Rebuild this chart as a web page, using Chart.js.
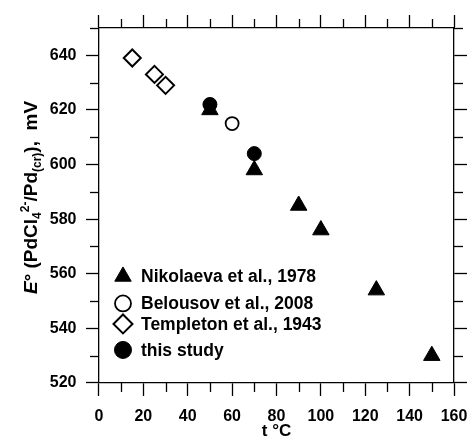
<!DOCTYPE html>
<html>
<head>
<meta charset="utf-8">
<script src="https://cdn.jsdelivr.net/npm/chart.js@4.4.1/dist/chart.umd.min.js"></script>
<style>
  body { margin: 0; background: #fff; }
  #chart { display: block; }
</style>
</head>
<body>
<canvas id="chart" width="470" height="443"></canvas>
<script>
// Values: t in ºC, E in mV
const nikolaevaT = [50, 70, 90, 100, 125, 150];
const nikolaevaE = [620, 598, 585, 576, 554, 530];
const belousovT = [60];
const belousovE = [615];
const templetonT = [15, 25, 30];
const templetonE = [639, 633, 629];
const studyT = [50, 70];
const studyE = [622, 604];

const seriesNames = ['Nikolaeva et al., 1978', 'Belousov et al., 2008', 'Templeton et al., 1943', 'this study'];

// axis ranges: ticks every 10, labels every 20
const xMin = 0, xMax = 160, xStep = 10, xLabelStep = 20;
const yMin = 520, yMax = 650, yStep = 10, yLabelStep = 20;

const xTitle = 't °C';
const yTitleParts = [
  { text: 'E', italic: true },
  { text: '° (PdCl' },
  { text: '4', sub: true },
  { text: '2-', sup: true },
  { text: '/Pd' },
  { text: '(cr)', sub: true },
  { text: '),  mV' }
];

const FONT = "'Liberation Sans', Arial, sans-serif";

function pts(xs, ys) {
  return xs.map((x, i) => ({ x: x, y: ys[i] }));
}

function isMajor(id, v) {
  return id[0] === 'x' ? (v - xMin) % xLabelStep === 0 : (v - yMin) % yLabelStep === 0;
}

// note: chart.js counts ticks.padding twice in the axis size
function frameAxis(id, pos, labels) {
  const isX = id[0] === 'x';
  return {
    type: 'linear',
    position: pos,
    min: isX ? xMin : yMin,
    max: isX ? xMax : yMax,
    ticks: {
      display: labels,
      stepSize: isX ? xStep : yStep,
      autoSkip: false,
      maxRotation: 0,
      padding: labels ? (isX ? 2 : 9.5) : 0,
      color: '#000',
      font: { family: FONT, size: 16, weight: 'bold', lineHeight: isX ? 2.34 : 1 },
      callback: v => isMajor(id, v) ? v : ''
    },
    grid: {
      drawOnChartArea: false,
      drawTicks: true,
      tickLength: 13,
      tickWidth: 1.3,
      tickColor: c => isMajor(id, c.tick.value) ? '#000' : 'rgba(0,0,0,0)'
    },
    border: { display: true, color: '#000', width: 1.3 }
  };
}

// short ticks between the labelled ones, on all four sides
const minorTicks = {
  id: 'minorTicks',
  afterDraw(chart) {
    const ctx = chart.ctx;
    ctx.save();
    ctx.strokeStyle = '#000';
    ctx.lineWidth = 1.3;
    ['x', 'x2', 'y', 'y2'].forEach(id => {
      const s = chart.scales[id];
      s.ticks.forEach(t => {
        if (isMajor(id, t.value)) return;
        const p = Math.round(s.getPixelForValue(t.value)) + 0.5;
        ctx.beginPath();
        if (s.position === 'bottom') { ctx.moveTo(p, s.top); ctx.lineTo(p, s.top + 9); }
        else if (s.position === 'top') { ctx.moveTo(p, s.bottom); ctx.lineTo(p, s.bottom - 9); }
        else if (s.position === 'left') { ctx.moveTo(s.right, p); ctx.lineTo(s.right - 9, p); }
        else { ctx.moveTo(s.left, p); ctx.lineTo(s.left + 9, p); }
        ctx.stroke();
      });
    });
    ctx.restore();
  }
};

// y title with italic E, subscripts and superscript
const yTitle = {
  id: 'yTitle',
  afterDraw(chart) {
    const ctx = chart.ctx, a = chart.chartArea;
    const big = 19, small = 12;
    const fontOf = p => (p.italic ? 'italic ' : '') + 'bold ' + (p.sub || p.sup ? small : big) + 'px ' + FONT;
    let total = 0;
    yTitleParts.forEach(p => { ctx.font = fontOf(p); total += ctx.measureText(p.text).width; });
    ctx.save();
    ctx.translate(a.left - 62, (a.top + a.bottom) / 2 - 8);
    ctx.rotate(-Math.PI / 2);
    ctx.fillStyle = '#000';
    ctx.textBaseline = 'alphabetic';
    let u = -total / 2;
    yTitleParts.forEach(p => {
      ctx.font = fontOf(p);
      const dv = p.sub ? 4 : (p.sup ? -8 : 0);
      ctx.fillText(p.text, u, dv);
      u += ctx.measureText(p.text).width;
    });
    ctx.restore();
  }
};

// legend inside the plot, lower left
const legendStyles = [
  { pointStyle: 'triangle', radius: 9.5, fill: '#000', borderWidth: 1 },
  { pointStyle: 'circle', radius: 8, fill: '#fff', borderWidth: 1.8 },
  { pointStyle: 'rectRot', radius: 9.5, fill: '#fff', borderWidth: 2 },
  { pointStyle: 'circle', radius: 8.5, fill: '#000', borderWidth: 1 }
];
const legendRowOffsets = [106.5, 79.5, 59, 33];

const insideLegend = {
  id: 'insideLegend',
  afterDraw(chart) {
    const ctx = chart.ctx, a = chart.chartArea;
    ctx.save();
    seriesNames.forEach((name, i) => {
      const st = legendStyles[i];
      const y = a.bottom - legendRowOffsets[i];
      ctx.fillStyle = st.fill;
      ctx.strokeStyle = '#000';
      ctx.lineWidth = st.borderWidth;
      Chart.helpers.drawPoint(ctx, { pointStyle: st.pointStyle, radius: st.radius, rotation: 0, borderWidth: st.borderWidth }, a.left + 24, y);
      ctx.fillStyle = '#000';
      ctx.font = 'bold 17.5px ' + FONT;
      ctx.textBaseline = 'middle';
      ctx.textAlign = 'left';
      ctx.fillText(name, a.left + 42, y + 1);
    });
    ctx.restore();
  }
};

new Chart(document.getElementById('chart'), {
  type: 'scatter',
  data: {
    datasets: [
      {
        label: seriesNames[0],
        data: pts(nikolaevaT, nikolaevaE),
        pointStyle: 'triangle',
        pointRadius: 9.5,
        backgroundColor: '#000',
        borderColor: '#000',
        borderWidth: 1
      },
      {
        label: seriesNames[1],
        data: pts(belousovT, belousovE),
        pointStyle: 'circle',
        pointRadius: 6.5,
        backgroundColor: '#fff',
        borderColor: '#000',
        borderWidth: 1.8
      },
      {
        label: seriesNames[2],
        data: pts(templetonT, templetonE),
        pointStyle: 'rectRot',
        pointRadius: 8.5,
        backgroundColor: '#fff',
        borderColor: '#000',
        borderWidth: 2
      },
      {
        label: seriesNames[3],
        data: pts(studyT, studyE),
        pointStyle: 'circle',
        pointRadius: 7,
        backgroundColor: '#000',
        borderColor: '#000',
        borderWidth: 1
      }
    ]
  },
  options: {
    responsive: false,
    animation: false,
    events: [],
    layout: { autoPadding: false, padding: { left: 40.3, right: 3, top: 15, bottom: 0 } },
    plugins: {
      legend: { display: false },
      tooltip: { enabled: false }
    },
    scales: {
      x: Object.assign(frameAxis('x', 'bottom', true), {
        title: {
          display: true,
          text: xTitle,
          color: '#000',
          font: { family: FONT, size: 17, weight: 'bold', lineHeight: 1 },
          padding: { top: -14.9, bottom: 3.5 }
        }
      }),
      x2: frameAxis('x2', 'top', false),
      y: frameAxis('y', 'left', true),
      y2: frameAxis('y2', 'right', false)
    }
  },
  plugins: [minorTicks, yTitle, insideLegend]
});
</script>
</body>
</html>
